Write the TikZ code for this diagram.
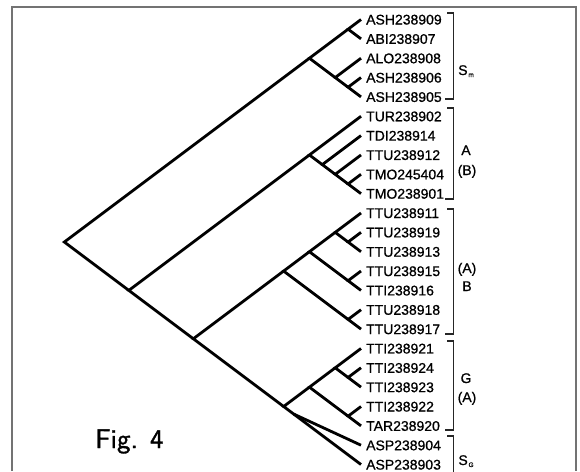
\documentclass[tikz,border=0pt]{standalone}
\usepackage{fontspec}
\setmainfont{Liberation Sans}
\newfontfamily\leaffont[FakeBold=0.8]{Liberation Sans}
\newfontfamily\figfont[FakeBold=1.2]{lmsans10-regular.otf}
\usetikzlibrary{calc}
\newcommand\mkclade[3]{%
  \pgfmathsetmacro\cya{19.5+19.35*#2}%
  \pgfmathsetmacro\cyb{19.5+19.35*#3}%
  \pgfmathsetmacro\cxn{361-(\cyb-\cya)/1.5}%
  \pgfmathsetmacro\cyn{(\cya+\cyb)/2}%
  \coordinate (#1) at (\cxn,\cyn);}
\begin{document}
\begin{tikzpicture}[x=1pt,y=-1pt,
  branch/.style={line width=2.8pt, line join=miter, line cap=butt},
  leaflab/.style={anchor=base west, inner sep=0pt, font=\leaffont\fontsize{14}{14}\selectfont},
  grplab/.style={anchor=base, inner sep=0pt, font=\leaffont\fontsize{14}{16}\selectfont},
  brk/.style={line width=1.4pt, black!85},
  frameline/.style={line width=1.3pt, black!55}]
\useasboundingbox (0,0) rectangle (580,471);
% frame
\draw[frameline] (12,471) -- (12,7) -- (576,7) -- (576,471);
% leaves
\foreach \lab [count=\i from 0] in {ASH238909,ABI238907,ALO238908,ASH238906,ASH238905,
  TUR238902,TDI238914,TTU238912,TMO245404,TMO238901,
  TTU238911,TTU238919,TTU238913,TTU238915,TTI238916,TTU238918,TTU238917,
  TTI238921,TTI238924,TTI238923,TTI238922,TAR238920,ASP238904,ASP238903}{
  \pgfmathsetmacro\yy{19.5+19.35*\i}
  \coordinate (l\i) at (361,\yy);
  \node[leaflab] (t\i) at (366,\yy+5) {\lab};
}
% internal nodes
\mkclade{root}{0}{23}
\mkclade{sm}{0}{4}\mkclade{smA}{0}{1}\mkclade{smB}{2}{4}\mkclade{smC}{3}{4}
\mkclade{rest}{5}{23}
\mkclade{ab}{5}{9}\mkclade{abA}{6}{9}\mkclade{abB}{7}{9}\mkclade{abC}{8}{9}
\mkclade{bgs}{10}{23}
\mkclade{bb}{10}{16}\mkclade{bbA}{10}{14}\mkclade{bbB}{15}{16}
\mkclade{bbC}{10}{12}\mkclade{bbD}{11}{12}\mkclade{bbE}{13}{14}
\mkclade{gsg}{17}{23}
\mkclade{gg}{17}{21}\mkclade{ggA}{17}{19}\mkclade{ggB}{18}{19}\mkclade{ggC}{20}{21}
\coordinate (sg) at ($(gsg)!0.13!(l23)$);
% branches
\draw[branch] (sm) -- (root) -- (rest);
\draw[branch] (smA) -- (sm) -- (smB);
\draw[branch] (l0) -- (smA) -- (l1);
\draw[branch] (l2) -- (smB) -- (smC);
\draw[branch] (l3) -- (smC) -- (l4);
\draw[branch] (ab) -- (rest) -- (bgs);
\draw[branch] (l5) -- (ab) -- (abA);
\draw[branch] (l6) -- (abA) -- (abB);
\draw[branch] (l7) -- (abB) -- (abC);
\draw[branch] (l8) -- (abC) -- (l9);
\draw[branch] (bb) -- (bgs) -- (gsg);
\draw[branch] (bbA) -- (bb) -- (bbB);
\draw[branch] (bbC) -- (bbA) -- (bbE);
\draw[branch] (l10) -- (bbC) -- (bbD);
\draw[branch] (l11) -- (bbD) -- (l12);
\draw[branch] (l13) -- (bbE) -- (l14);
\draw[branch] (l15) -- (bbB) -- (l16);
\draw[branch] (gg) -- (gsg) -- (l23);
\draw[branch] (ggA) -- (gg) -- (ggC);
\draw[branch] (l17) -- (ggA) -- (ggB);
\draw[branch] (l18) -- (ggB) -- (l19);
\draw[branch] (l20) -- (ggC) -- (l21);
\draw[branch] (sg) -- (l22);
% brackets
\draw[brk] (447,13) -- (453.5,13) -- (453.5,99) -- (445,99);
\draw[brk] (447,108) -- (453.5,108) -- (453.5,199) -- (445,199);
\draw[brk] (447,209) -- (453.5,209) -- (453.5,334) -- (445,334);
\draw[brk] (447,341) -- (453.5,341) -- (453.5,430) -- (445,430);
\draw[brk] (447,436) -- (453.5,436) -- (453.5,475);
% group labels
\node[grplab] (gSm) at (466,75) {S\kern0.8pt\raisebox{-2pt}{\fontsize{6.5}{6.5}\selectfont m}};
\node[grplab] (gA1) at (466,155) {A};
\node[grplab] (gA2) at (467,175) {(B)};
\node[grplab] (gB1) at (467,273) {(A)};
\node[grplab] (gB2) at (467,291) {B};
\node[grplab] (gG1) at (466,383) {G};
\node[grplab] (gG2) at (467,402) {(A)};
\node[grplab] (gSg) at (466,465) {S\kern0.8pt\raisebox{-2pt}{\fontsize{6.5}{6.5}\selectfont G}};
% figure label
\node[anchor=base west, inner sep=0pt, font=\figfont\fontsize{27}{27}\selectfont] (fig) at (95,448) {Fig. 4};
\end{tikzpicture}
\end{document}
